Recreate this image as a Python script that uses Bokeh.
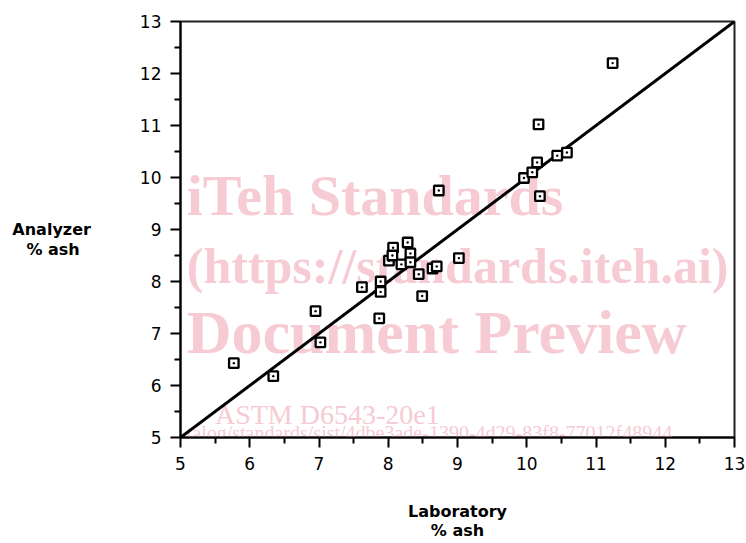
from bokeh.plotting import figure
from bokeh.models import Range1d, FixedTicker, Label
from bokeh.embed import file_html
from bokeh.resources import INLINE

# Laboratory vs analyzer % ash
laboratory = [5.77, 6.34, 6.95, 7.02, 7.62, 7.89, 7.89, 7.87, 8.01, 8.07,
              8.06, 8.28, 8.32, 8.19, 8.32, 8.44, 8.49, 8.64, 8.70, 8.73,
              9.02, 9.96, 10.08, 10.15, 10.17, 10.19, 10.44, 10.58, 11.24]
analyzer = [6.43, 6.18, 7.43, 6.83, 7.89, 8.00, 7.80, 7.29, 8.40, 8.65,
            8.50, 8.75, 8.54, 8.33, 8.37, 8.14, 7.72, 8.25, 8.29, 9.75,
            8.45, 9.99, 10.10, 10.29, 11.02, 9.64, 10.42, 10.48, 12.20]
identity_line = [5, 13]
major_ticks = [5, 6, 7, 8, 9, 10, 11, 12, 13]
minor_ticks = [5.5, 6.5, 7.5, 8.5, 9.5, 10.5, 11.5, 12.5]

x_title = "Laboratory\n% ash"
y_title = "\nAnalyzer\n% ash\u00a0\u00a0"
watermark = ["iTeh Standards", "(https://standards.iteh.ai)", "Document Preview"]
watermark_small = ["ASTM D6543-20e1",
                   "talog/standards/sist/4dbe3ade-1390-4d29-83f8-77012f48944"]

p = figure(width=746, height=543, output_backend="svg", toolbar_location=None,
           x_range=Range1d(5, 13), y_range=Range1d(5, 13),
           min_border_left=180, min_border_right=12,
           min_border_top=21, min_border_bottom=102)
p.background_fill_color = "white"
p.border_fill_color = "white"
p.outline_line_color = "#222222"
p.outline_line_width = 2
p.grid.visible = False

for ax in (p.xaxis[0], p.yaxis[0]):
    ax.ticker = FixedTicker(ticks=major_ticks, minor_ticks=minor_ticks)
    ax.axis_line_color = "black"
    ax.axis_line_width = 2
    ax.major_tick_line_color = "black"
    ax.major_tick_line_width = 2
    ax.minor_tick_line_color = "black"
    ax.minor_tick_line_width = 2
    ax.major_tick_in = 0
    ax.major_tick_out = 10
    ax.minor_tick_in = 0
    ax.minor_tick_out = 6
    ax.major_label_text_font = "DejaVu Sans"
    ax.major_label_text_font_size = "17px"
    ax.major_label_text_color = "black"
    ax.axis_label_text_font = "DejaVu Sans"
    ax.axis_label_text_font_style = "bold"
    ax.axis_label_text_font_size = "16px"
    ax.axis_label_text_color = "black"
    ax.axis_label_text_line_height = 1.05
    ax.axis_label_text_align = "center"
p.xaxis.major_label_standoff = 9
p.yaxis.major_label_standoff = 9
p.xaxis.axis_label = x_title
p.xaxis.axis_label_standoff = 29
p.yaxis.axis_label = y_title
p.yaxis.axis_label_orientation = "horizontal"
p.yaxis.axis_label_standoff = 46

# watermark (behind everything, kept inside the plot frame)
wm_color = "#f6cbd4"
wm_x = 5.09
wm_sizes = ["58px", "50px", "62px"]
wm_y = [9.65, 8.30, 7.02]
for txt, yy, fs in zip(watermark, wm_y, wm_sizes):
    p.add_layout(Label(x=wm_x, y=yy, text=txt, text_align="left",
                       text_baseline="alphabetic", text_font="Liberation Serif",
                       text_font_style="bold", text_font_size=fs,
                       text_color=wm_color, level="underlay"))
p.add_layout(Label(x=7.12, y=5.45, text=watermark_small[0], text_align="center",
                   text_baseline="alphabetic", text_font="Liberation Serif",
                   text_font_size="28px", text_color=wm_color, level="underlay"))
p.add_layout(Label(x=wm_x, y=5.08, text=watermark_small[1], text_align="left",
                   text_baseline="alphabetic", text_font="Liberation Serif",
                   text_font_size="20px", text_color=wm_color, level="underlay"))

p.line(identity_line, identity_line, line_color="black", line_width=3)
p.scatter(laboratory, analyzer, marker="square_dot", size=9.5,
          line_color="black", line_width=2.3, fill_color="white")

open("out.html", "w").write(file_html(p, INLINE))
